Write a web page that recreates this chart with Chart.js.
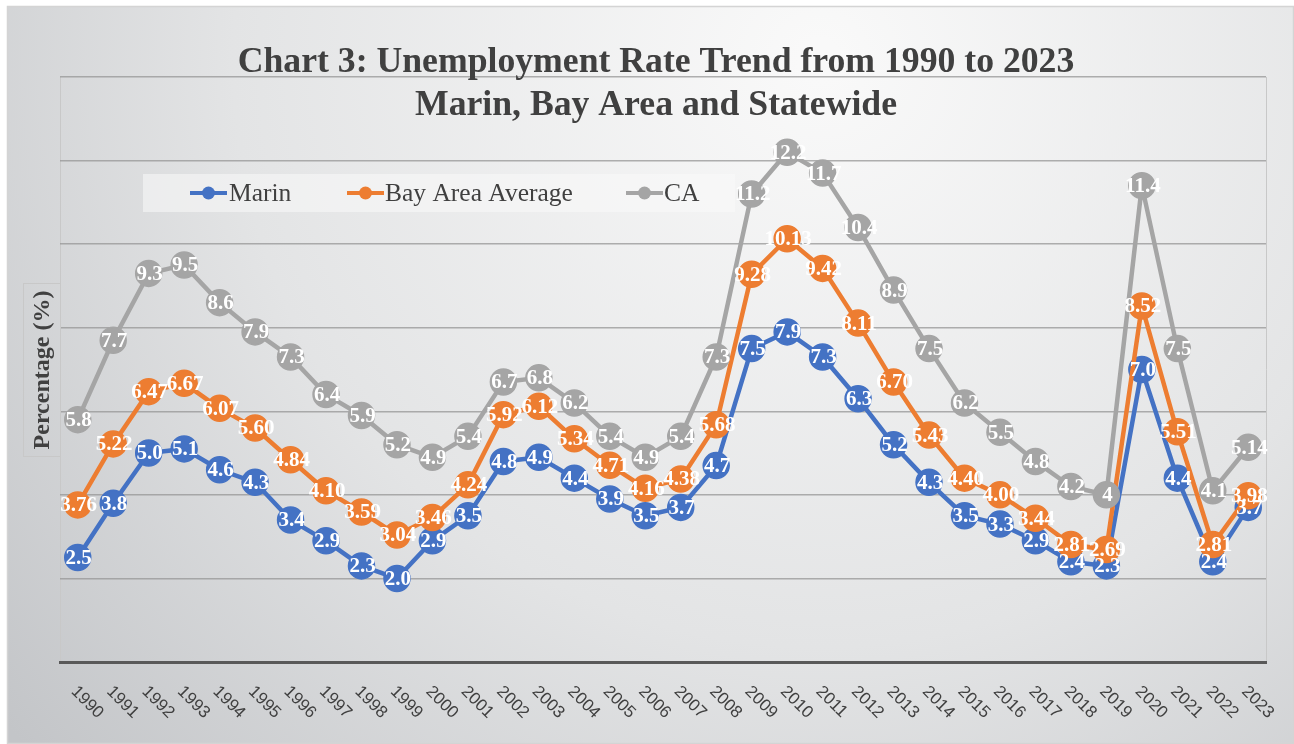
<!DOCTYPE html>
<html><head><meta charset="utf-8">
<script src="https://cdn.jsdelivr.net/npm/chart.js@4.4.1/dist/chart.umd.min.js"></script>
<style>html,body{margin:0;padding:0;background:#fff;overflow:hidden}#wrap{width:1294px;height:744px;position:relative}</style>
</head><body><div id="wrap"><canvas id="c" width="1294" height="744"></canvas></div>
<script>
const years = ['1990','1991','1992','1993','1994','1995','1996','1997','1998','1999','2000','2001','2002','2003','2004','2005','2006','2007','2008','2009','2010','2011','2012','2013','2014','2015','2016','2017','2018','2019','2020','2021','2022','2023'];
const marin = [2.5,3.8,5.0,5.1,4.6,4.3,3.4,2.9,2.3,2.0,2.9,3.5,4.8,4.9,4.4,3.9,3.5,3.7,4.7,7.5,7.9,7.3,6.3,5.2,4.3,3.5,3.3,2.9,2.4,2.3,7.0,4.4,2.4,3.7];
const bayArea = [3.76,5.22,6.47,6.67,6.07,5.60,4.84,4.10,3.59,3.04,3.46,4.24,5.92,6.12,5.34,4.71,4.16,4.38,5.68,9.28,10.13,9.42,8.11,6.70,5.43,4.40,4.00,3.44,2.81,2.69,8.52,5.51,2.81,3.98];
const ca = [5.8,7.7,9.3,9.5,8.6,7.9,7.3,6.4,5.9,5.2,4.9,5.4,6.7,6.8,6.2,5.4,4.9,5.4,7.3,11.2,12.2,11.7,10.4,8.9,7.5,6.2,5.5,4.8,4.2,4,11.4,7.5,4.1,5.14];
const seriesNames = ['Marin','Bay Area Average','CA'];
const seriesColors = ['#4472C4','#ED7D31','#A5A5A5'];
const labelDecimals = [1, 2, null];
const titleLines = ['Chart 3: Unemployment Rate Trend from 1990 to 2023','Marin, Bay Area and Statewide'];
const yAxisTitle = 'Percentage (%)';
const yTicks = {min: 0, max: 14, step: 2};

const SERIF = '"Liberation Serif", "DejaVu Serif", serif';
const TEXT = '#404040';

const bgPlugin = {
  id: 'bg',
  beforeDraw(chart) {
    const ctx = chart.ctx;
    ctx.save();
    ctx.fillStyle = '#fff';
    ctx.fillRect(0, 0, chart.width, chart.height);
    const g = ctx.createRadialGradient(820, 60, 20, 820, 60, 1050);
    g.addColorStop(0, '#f9f9f9');
    g.addColorStop(0.55, '#e3e4e5');
    g.addColorStop(1, '#c3c5c8');
    ctx.fillStyle = g;
    ctx.fillRect(7, 6, chart.width - 7, chart.height - 6);
    ctx.strokeStyle = '#d4d4d4';
    ctx.lineWidth = 1.5;
    ctx.strokeRect(7.5, 6.5, chart.width - 8, chart.height - 7);
    const a = chart.chartArea;
    ctx.strokeStyle = '#c8c8c8';
    ctx.lineWidth = 1;
    ctx.beginPath();
    ctx.moveTo(a.left + 0.5, a.top); ctx.lineTo(a.left + 0.5, a.bottom);
    ctx.moveTo(a.right + 0.5, a.top); ctx.lineTo(a.right + 0.5, a.bottom);
    ctx.stroke();
    ctx.restore();
  },
  beforeDatasetsDraw(chart) {
    const ctx = chart.ctx;
    ctx.save();
    ctx.fillStyle = 'rgba(250,250,250,0.55)';
    ctx.fillRect(143, 174, 592, 38);
    const items = [{x: 190, tx: 229}, {x: 347, tx: 385}, {x: 626, tx: 664}];
    ctx.font = '25.5px ' + SERIF;
    ctx.textBaseline = 'middle';
    ctx.textAlign = 'left';
    const cy = 193;
    items.forEach((it, i) => {
      ctx.strokeStyle = seriesColors[i];
      ctx.lineWidth = 4;
      ctx.beginPath(); ctx.moveTo(it.x, cy); ctx.lineTo(it.x + 37, cy); ctx.stroke();
      ctx.fillStyle = seriesColors[i];
      ctx.beginPath(); ctx.arc(it.x + 18.5, cy, 6.5, 0, Math.PI * 2); ctx.fill();
      ctx.fillStyle = TEXT;
      ctx.fillText(seriesNames[i], it.tx, cy + 1);
    });
    ctx.restore();
  },
  afterDatasetsDraw(chart) {
    const ctx = chart.ctx;
    ctx.save();
    ctx.font = 'bold 21px ' + SERIF;
    ctx.fillStyle = '#ffffff';
    ctx.textAlign = 'center';
    ctx.textBaseline = 'middle';
    chart.data.datasets.forEach((ds, di) => {
      const meta = chart.getDatasetMeta(di);
      meta.data.forEach((pt, i) => {
        const v = ds.data[i];
        const d = labelDecimals[di];
        const s = d === null ? String(v) : v.toFixed(d);
        ctx.fillText(s, pt.x + 1, pt.y + 1);
      });
    });
    ctx.restore();
  },
  afterDraw(chart) {
    const ctx = chart.ctx;
    const a = chart.chartArea;
    ctx.save();
    ctx.fillStyle = TEXT;
    ctx.textAlign = 'center';
    ctx.textBaseline = 'middle';
    ctx.font = 'bold 32px ' + SERIF;
    const w0 = ctx.measureText(titleLines[0]).width;
    const fs = Math.max(26, Math.min(40, 32 * 837 / w0));
    ctx.font = 'bold ' + fs.toFixed(1) + 'px ' + SERIF;
    ctx.fillText(titleLines[0], 656, 63);
    ctx.fillText(titleLines[1], 656, 106);
    ctx.strokeStyle = '#c8c8c8';
    ctx.lineWidth = 1;
    ctx.strokeRect(23.5, 283.5, 37, 173);
    ctx.translate(43, 370);
    ctx.rotate(-Math.PI / 2);
    ctx.font = 'bold 24px ' + SERIF;
    ctx.fillStyle = TEXT;
    ctx.fillText(yAxisTitle, 0, 0);
    ctx.restore();
    const xs = chart.scales.x;
    ctx.save();
    ctx.font = '17px "Liberation Sans", Arial, sans-serif';
    ctx.fillStyle = '#404040';
    ctx.textAlign = 'left';
    ctx.textBaseline = 'middle';
    years.forEach((y, i) => {
      const x = xs.getPixelForTick(i);
      ctx.save();
      ctx.translate(x - 4, a.bottom + 27);
      ctx.rotate(Math.PI / 4);
      ctx.fillText(y, 0, 0);
      ctx.restore();
    });
    ctx.restore();
  }
};

const mk = (label, data, color, order) => ({
  label, data, order,
  borderColor: color, backgroundColor: color,
  pointBackgroundColor: color, pointBorderColor: color,
  borderWidth: 4.5, pointRadius: 13, pointBorderWidth: 1.5,
  tension: 0, fill: false
});

new Chart(document.getElementById('c'), {
  type: 'line',
  data: {
    labels: years,
    datasets: [
      mk(seriesNames[0], marin, seriesColors[0], 2),
      mk(seriesNames[1], bayArea, seriesColors[1], 1),
      mk(seriesNames[2], ca, seriesColors[2], 0)
    ]
  },
  options: {
    responsive: false,
    animation: false,
    devicePixelRatio: 1,
    layout: {padding: {left: 60, right: 28, top: 77, bottom: 82}},
    plugins: {legend: {display: false}, title: {display: false}, tooltip: {enabled: false}},
    scales: {
      x: {
        type: 'category', offset: true,
        grid: {display: false, drawTicks: false},
        border: {display: true, color: '#595959', width: 3},
        ticks: {display: false},
        afterFit: s => { s.height = 0; }
      },
      y: {
        min: yTicks.min, max: yTicks.max,
        ticks: {display: false, stepSize: yTicks.step},
        grid: {color: 'rgba(150,150,150,0.75)', lineWidth: 1.5, drawTicks: false},
        border: {display: false},
        afterFit: s => { s.width = 0; }
      }
    }
  },
  plugins: [bgPlugin]
});
</script></body></html>
